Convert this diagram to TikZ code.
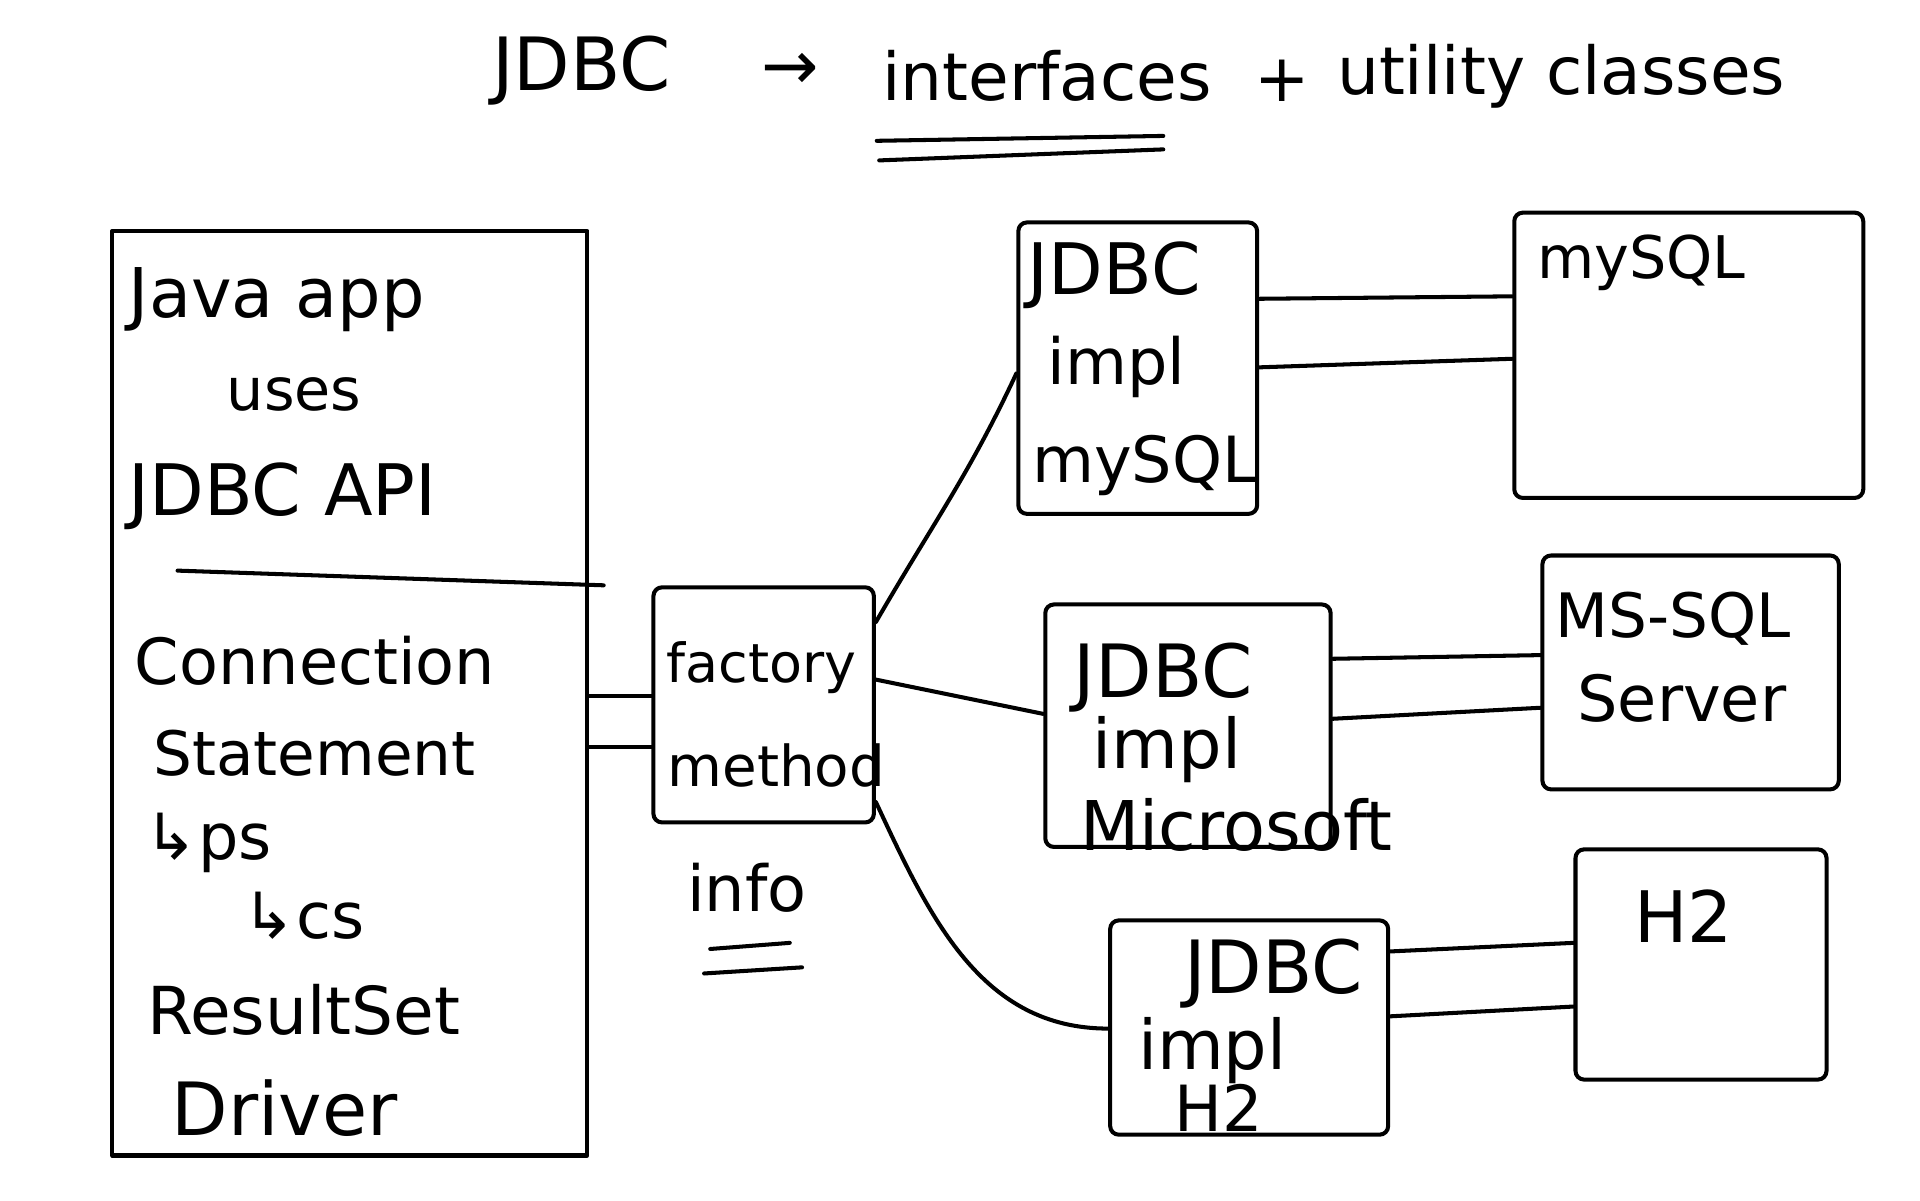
\documentclass[tikz,border=0pt]{standalone}
\usepackage{fontspec}
\setmainfont{DejaVu Sans}
\begin{document}
\begin{tikzpicture}[x=1pt,y=-1pt,
  ink/.style={line width=3.3pt,line cap=round,line join=round},
  box/.style={ink,draw,rectangle,rounded corners=7pt,inner sep=0pt},
  sz/.style={font=\fontsize{#1}{#1}\selectfont,inner sep=0pt},
  txt/.style={sz=50}]
\useasboundingbox (0,0) rectangle (1568,980);
% title
\node[sz=60] (t1) at (475,58) {JDBC};
\node[sz=56] (t2) at (645,58) {→};
\node[sz=54] (t3) at (855,62) {interfaces};
\node[sz=54] (t4) at (1047,66) {+};
\node[sz=54] (t5) at (1275,62) {utility classes};
\coordinate (u1a) at (716,115); \coordinate (u1b) at (950,111);
\coordinate (u2a) at (718,131); \coordinate (u2b) at (950,122);
\draw[ink] (u1a) -- (u1b);
\draw[ink] (u2a) -- (u2b);
% left box
\node[box,rounded corners=0pt,minimum width=388pt,minimum height=755pt,anchor=north west] (app) at (90,187) {};
\node[sz=56,anchor=west] (a1) at (105,245) {Java app};
\node[sz=48,anchor=west] (a2) at (185,322) {uses};
\node[sz=58,anchor=west] (a3) at (105,405) {JDBC API};
\coordinate (d1) at (145,466); \coordinate (d2) at (493,478);
\draw[ink] (d1) -- (d2);
\node[sz=52,anchor=west] (a4) at (110,540) {Connection};
\node[sz=50,anchor=west] (a5) at (125,615) {Statement};
\node[sz=52,anchor=west] (a6) at (118,688) {↳ps};
\node[sz=52,anchor=west] (a7) at (198,748) {↳cs};
\node[sz=54,anchor=west] (a8) at (120,825) {ResultSet};
\node[sz=60,anchor=west] (a9) at (140,905) {Driver};
% factory
\node[box,minimum width=180pt,minimum height=192pt,anchor=north west] (fac) at (532,478) {};
\node[sz=44] (f1) at (622,545) {factory};
\node[sz=46] (f2) at (634,625) {method};
\node[sz=52] (f3) at (610,725) {info};
\coordinate (i1a) at (580,775); \coordinate (i1b) at (645,770);
\coordinate (i2a) at (575,795); \coordinate (i2b) at (655,790);
\draw[ink] (i1a) -- (i1b);
\draw[ink] (i2a) -- (i2b);
\draw[ink] (app.east |- 0,568) -- (fac.west |- 0,568);
\draw[ink] (app.east |- 0,610) -- (fac.west |- 0,610);
% impl boxes
\node[box,minimum width=195pt,minimum height=238pt,anchor=north west] (im1) at (830,180) {};
\node[sz=58] (m1) at (910,225) {JDBC};
\node[sz=52] (m2) at (912,300) {impl};
\node[sz=52] (m3) at (935,380) {mySQL};
\node[box,minimum width=233pt,minimum height=198pt,anchor=north west] (im2) at (852,492) {};
\node[sz=60] (n1) at (950,553) {JDBC};
\node[sz=56] (n2) at (953,612) {impl};
\node[sz=56] (n3) at (1010,674) {Microsoft};
\node[box,minimum width=227pt,minimum height=175pt,anchor=north west] (im3) at (905,750) {};
\node[sz=60] (h1) at (1040,795) {JDBC};
\node[sz=56] (h2) at (990,858) {impl};
\node[sz=52] (h3) at (995,905) {H2};
% db boxes
\node[box,minimum width=285pt,minimum height=233pt,anchor=north west] (db1) at (1235,172) {};
\node[sz=48,anchor=west] (b1) at (1255,215) {mySQL};
\node[box,minimum width=242pt,minimum height=191pt,anchor=north west] (db2) at (1258,452) {};
\node[sz=50,anchor=west] (c1) at (1270,505) {MS-SQL};
\node[sz=52,anchor=west] (c2) at (1288,570) {Server};
\node[box,minimum width=205pt,minimum height=188pt,anchor=north west] (db3) at (1285,692) {};
\node[sz=58] (e1) at (1375,748) {H2};
% factory to impls
\draw[ink] (fac.east |- 0,508) to[out=60,in=-115] (im1.west |- 0,305);
\draw[ink] (fac.east |- 0,555) -- (im2.west |- 0,583);
\draw[ink] (fac.east |- 0,655) to[out=-65,in=180] (im3.west |- 0,840);
% impls to dbs
\draw[ink] (im1.east |- 0,244) -- (db1.west |- 0,242);
\draw[ink] (im1.east |- 0,300) -- (db1.west |- 0,293);
\draw[ink] (im2.east |- 0,538) -- (db2.west |- 0,535);
\draw[ink] (im2.east |- 0,587) -- (db2.west |- 0,578);
\draw[ink] (im3.east |- 0,777) -- (db3.west |- 0,770);
\draw[ink] (im3.east |- 0,830) -- (db3.west |- 0,822);
\end{tikzpicture}
\end{document}
